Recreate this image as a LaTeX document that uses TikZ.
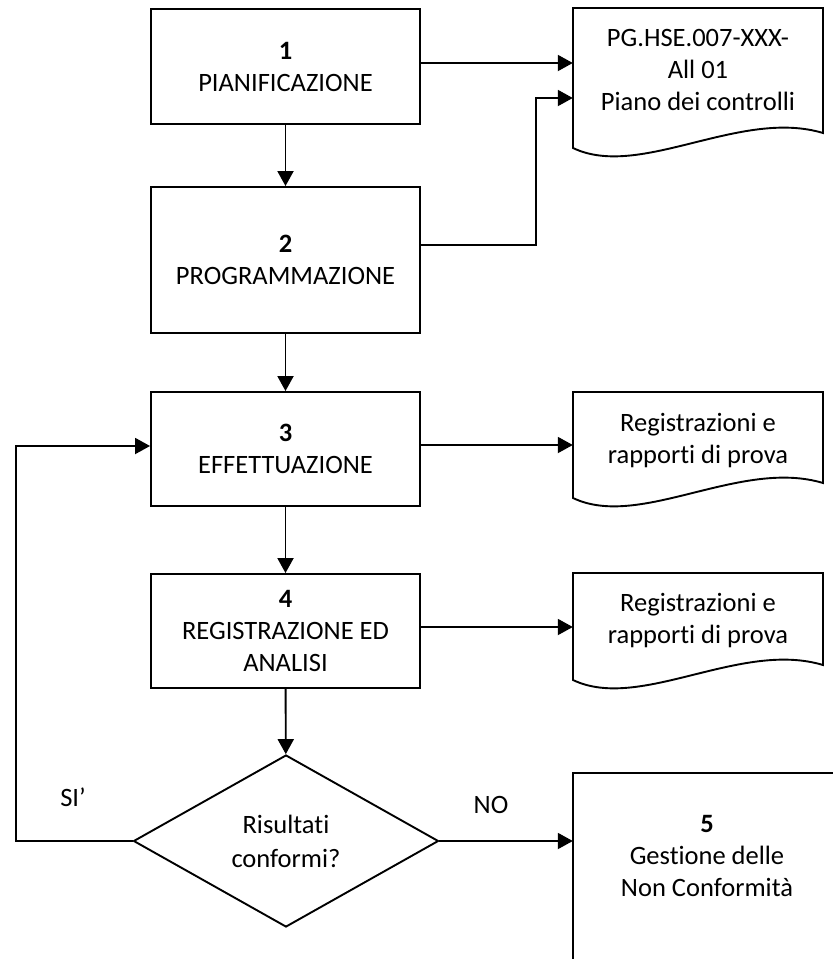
\documentclass[tikz,border=0pt]{standalone}
\usepackage{fontspec}
\setmainfont{Carlito}[Ligatures={NoCommon}]
\usetikzlibrary{arrows.meta,shapes.geometric}
\tikzset{
  txt/.style={font=\fontsize{26.5}{32}\selectfont, align=center, inner sep=0pt},
  procbox/.style={txt, draw, line width=1.9pt, minimum width=269pt},
  docnode/.style={txt, minimum width=250pt},
  decision/.style={txt, diamond, draw, line width=1.9pt, minimum width=305pt, minimum height=172pt, inner sep=0pt},
  line/.style={line width=1.9pt},
  arr/.style={line, -{Triangle[length=15pt,width=16pt]}},
}
\newcommand{\docshapeat}[3]{% x0, top, left-bottom
  \draw[line] (#1,#3) -- (#1,#2) -- (#1+250,#2) -- (#1+250,#3-15)
    .. controls (#1+167,#3-40) and (#1+67,#3+32) .. (#1,#3) -- cycle;}
\begin{document}
\begin{tikzpicture}[x=1pt,y=-1pt]
\useasboundingbox (0,0) rectangle (833,959);
% process boxes
\node[procbox, minimum height=115pt] (b1) at (285.5,66.5) {\textbf{1}\\PIANIFICAZIONE};
\node[procbox, minimum height=146pt] (b2) at (285.5,260) {\textbf{2}\\PROGRAMMAZIONE};
\node[procbox, minimum height=114pt] (b3) at (285.5,449) {\textbf{3}\\EFFETTUAZIONE};
\node[procbox, minimum height=114pt] (b4) at (285.5,631) {\textbf{4}\\REGISTRAZIONE ED\\ANALISI};
\node[decision] (dia) at (286,841) {Risultati\\[2pt]conformi?};
% documents
\docshapeat{573}{8}{148}
\node[docnode] (d1) at (698,70) {PG.HSE.007-XXX-\\All 01\\Piano dei controlli};
\docshapeat{573}{392}{498}
\node[docnode] (d2) at (698,441) {Registrazioni e\\rapporti di prova};
\docshapeat{573}{573}{680}
\node[docnode] (d3) at (698,621) {Registrazioni e\\rapporti di prova};
% box 5 (cropped)
\draw[line] (840,773) -- (573,773) -- (573,962);
\node[txt, minimum width=268pt] (b5) at (707,856) {\textbf{5}\\Gestione delle\\Non Conformità};
% connectors
\draw[arr] (b1) -- (b2);
\draw[arr] (b2) -- (b3);
\draw[arr] (b3) -- (b4);
\draw[arr] (b4) -- (dia);
\draw[arr] ([yshift=3.5pt]b1.east) -- ([yshift=3.5pt]b1.east -| d1.west);
\coordinate (d1in) at ([yshift=-28pt]d1.west);
\draw[arr] ([yshift=15pt]b2.east) -- ++(115,0) |- (d1in);
\draw[arr] ([yshift=4pt]b3.east) -- ([yshift=4pt]b3.east -| d2.west);
\draw[arr] ([yshift=4pt]b4.east) -- ([yshift=4pt]b4.east -| d3.west);
\draw[arr] (dia.east) -- (dia.east -| b5.west);
\draw[arr] (dia.west) -- ++(-117,0) |- ([yshift=3pt]b3.west);
% labels
\node[txt] (si) at (73,797) {SI’};
\node[txt] (no) at (491,805) {NO};
\end{tikzpicture}
\end{document}
